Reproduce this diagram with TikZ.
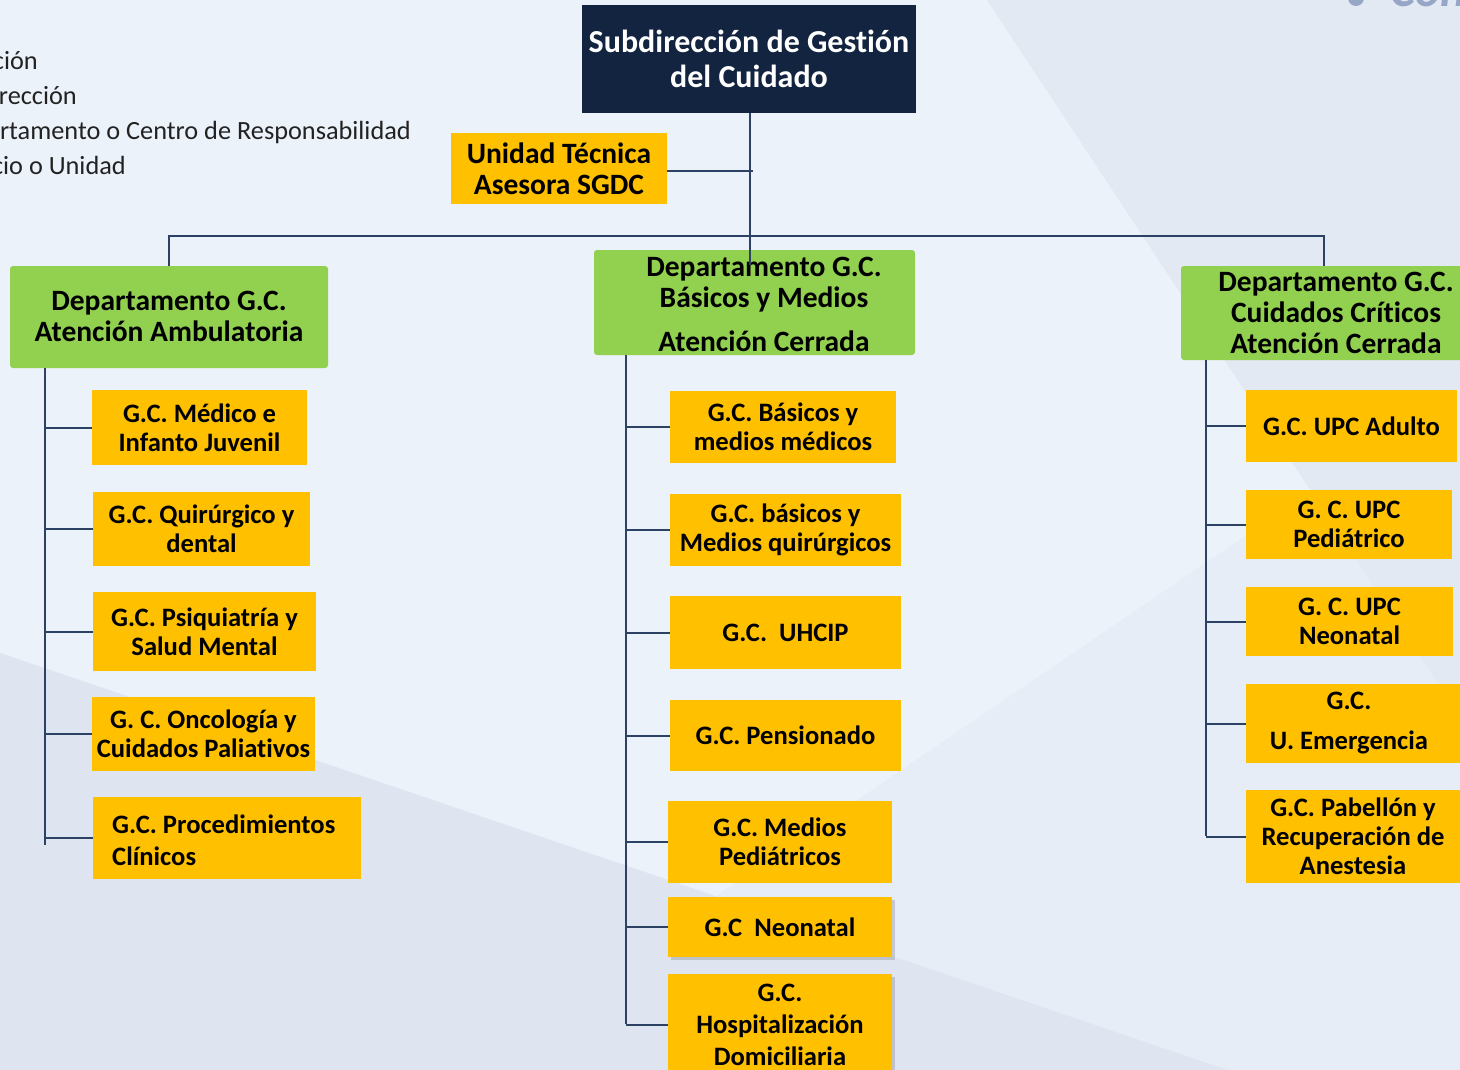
\documentclass[tikz,border=0pt]{standalone}
\usepackage{fontspec}
\setmainfont{Carlito}[Ligatures=NoCommon]
\usetikzlibrary{shadows}
\definecolor{bgmid}{HTML}{E7EDF6}
\definecolor{bglight}{HTML}{ECF2FA}
\definecolor{bgtr}{HTML}{E2E9F3}
\definecolor{bgbot}{HTML}{DFE5F0}
\definecolor{navy}{HTML}{12243F}
\definecolor{ylw}{HTML}{FFC000}
\definecolor{grn}{HTML}{92D050}
\definecolor{lineC}{HTML}{2B4264}
\definecolor{legC}{HTML}{222222}
\definecolor{conC}{HTML}{97A6C6}
\newcommand\ybfont{\bfseries\fontsize{26.6}{29}\selectfont}
\newcommand\gbfont{\bfseries\fontsize{29.5}{31}\selectfont}
\newcommand\tbfont{\bfseries\fontsize{32}{35}\selectfont}
\newcommand\legfont{\fontsize{26.3}{29}\selectfont}
\begin{document}
\begin{tikzpicture}[x=1pt,y=-1pt,
  conn/.style={draw=lineC, line width=2pt},
  ybox/.style={fill=ylw, inner sep=0pt, align=center, font=\ybfont, text=black},
  gbox/.style={fill=grn, rounded corners=3pt, inner sep=0pt},
  gtext/.style={inner sep=0pt, align=center, font=\gbfont, text=black},
  ytext/.style={inner sep=0pt, align=center, font=\ybfont, text=black},
  legend/.style={anchor=base east, inner sep=0pt, font=\legfont, text=legC},
  shad/.style={drop shadow={shadow xshift=3pt, shadow yshift=-3pt, opacity=0.15, fill=black}}
]
\useasboundingbox (0,0) rectangle (1460,1070);
% background
\fill[bgmid] (0,0) rectangle (1460,1070);
\fill[bglight] (0,0) -- (987,0) -- (1311,491) -- (716,896) -- (0,653) -- cycle;
\fill[bgtr] (987,0) -- (1460,0) -- (1460,717) -- cycle;
\fill[bgbot] (0,653) -- (1460,1149) -- (0,1149) -- cycle;
% corner text
\fill[conC] (1356,-2) circle (8);
\node[anchor=base west, inner sep=0pt, text=conC, font=\bfseries\itshape\fontsize{48}{48}\selectfont] (con) at (1390,7) {Con};
% legend
\node[legend] (lg1) at (38,70) {ción};
\node[legend] (lg2) at (77,105) {rección};
\node[legend] (lg3) at (411,140) {rtamento o Centro de Responsabilidad};
\node[legend] (lg4) at (126,175) {cio o Unidad};

% top
\node[fill=navy, inner sep=0pt, minimum width=334pt, minimum height=108pt, align=center, font=\tbfont, text=white] (top) at (749,59) {Subdirección de Gestión\\del Cuidado};
\node[ybox, minimum width=216pt, minimum height=71pt, font=\gbfont] (ut) at (559,168.5) {Unidad Técnica\\Asesora SGDC};

% departments
\node[gbox, minimum width=318pt, minimum height=102pt] (dL) at (169,317) {};
\node[gtext] (dLt) at (169,316.5) {Departamento G.C.\\Atención Ambulatoria};
\node[gbox, minimum width=321pt, minimum height=105pt] (dM) at (754.5,302.5) {};
\node[gtext] (dMt) at (764,304) {Departamento G.C.\\Básicos y Medios\\[13pt]Atención Cerrada};
\node[gbox, minimum width=289pt, minimum height=94pt] (dR) at (1325.5,313) {};
\node[gtext] (dRt) at (1336,312.5) {Departamento G.C.\\Cuidados Críticos\\Atención Cerrada};

% top connectors
\coordinate (topend) at (750,265);
\coordinate (utend) at (753,171);
\coordinate (busL) at (169,236);
\coordinate (busR) at (1324,236);
\draw[conn] (ut.east |- utend) -- (utend);
\draw[conn] (dL.north) -- (busL) -- (busR) -- (busR |- dR.north);
\draw[conn] (top.south -| topend) -- (topend);

% left column
\node[ybox, minimum width=215pt, minimum height=75pt] (l1) at (199.5,427.5) {G.C. Médico e\\Infanto Juvenil};
\node[ybox, minimum width=217pt, minimum height=74pt] (l2) at (201.5,529) {G.C. Quirúrgico y\\dental};
\node[ybox, minimum width=223pt, minimum height=79pt] (l3) at (204.5,631.5) {G.C. Psiquiatría y\\Salud Mental};
\node[ybox, minimum width=223pt, minimum height=74pt] (l4) at (203.5,734) {G. C. Oncología y\\Cuidados Paliativos};
\node[ybox, minimum width=268pt, minimum height=82pt] (l5) at (227,838) {};
\node[ytext, anchor=west, align=left, font=\bfseries\fontsize{26.6}{32}\selectfont] (l5t) at (112,840) {G.C. Procedimientos\\Clínicos};
\coordinate (lbus) at (45,845);
\draw[conn] (lbus |- dL.south) -- (lbus);
\foreach \n in {l1,l2,l3,l4,l5} \draw[conn] (\n.west -| lbus) -- (\n.west);

% middle column
\node[ybox, minimum width=226pt, minimum height=72pt] (m1) at (783,427) {G.C. Básicos y\\medios médicos};
\node[ybox, minimum width=231pt, minimum height=72pt] (m2) at (785.5,530) {G.C. básicos y\\Medios quirúrgicos};
\node[ybox, minimum width=231pt, minimum height=73pt] (m3) at (785.5,632.5) {G.C.\ \ UHCIP};
\node[ybox, minimum width=231pt, minimum height=71pt] (m4) at (785.5,735.5) {G.C. Pensionado};
\node[ybox, minimum width=224pt, minimum height=82pt] (m5) at (780,842) {G.C. Medios\\Pediátricos};
\node[ybox, shad, minimum width=224pt, minimum height=60pt] (m6) at (780,927) {G.C\ \ Neonatal};
\node[ybox, shad, minimum width=224pt, minimum height=101pt, font=\bfseries\fontsize{26.6}{32}\selectfont] (m7) at (780,1024.5) {G.C.\\Hospitalización\\Domiciliaria};
\coordinate (mbus) at (626,1024);
\draw[conn] (mbus |- dM.south) -- (mbus);
\foreach \n in {m1,m2,m3,m4,m5,m6,m7} \draw[conn] (\n.west -| mbus) -- (\n.west);

% right column
\node[ybox, minimum width=211pt, minimum height=72pt] (r1) at (1351.5,426) {G.C. UPC Adulto};
\node[ybox, minimum width=206pt, minimum height=69pt] (r2) at (1349,524.5) {G. C. UPC\\Pediátrico};
\node[ybox, minimum width=207pt, minimum height=69pt] (r3) at (1349.5,621.5) {G. C. UPC\\Neonatal};
\node[ybox, minimum width=224pt, minimum height=79pt] (r4) at (1358,723.5) {};
\node[ytext] (r4t) at (1349,723) {G.C.\\[11pt]U. Emergencia};
\node[ybox, minimum width=224pt, minimum height=93pt] (r5) at (1358,836.5) {};
\node[ytext] (r5t) at (1353,836.5) {G.C. Pabellón y\\Recuperación de\\Anestesia};
\coordinate (rbus) at (1206,836);
\draw[conn] (rbus |- dR.south) -- (rbus);
\foreach \n in {r1,r2,r3,r4,r5} \draw[conn] (\n.west -| rbus) -- (\n.west);
\end{tikzpicture}
\end{document}
